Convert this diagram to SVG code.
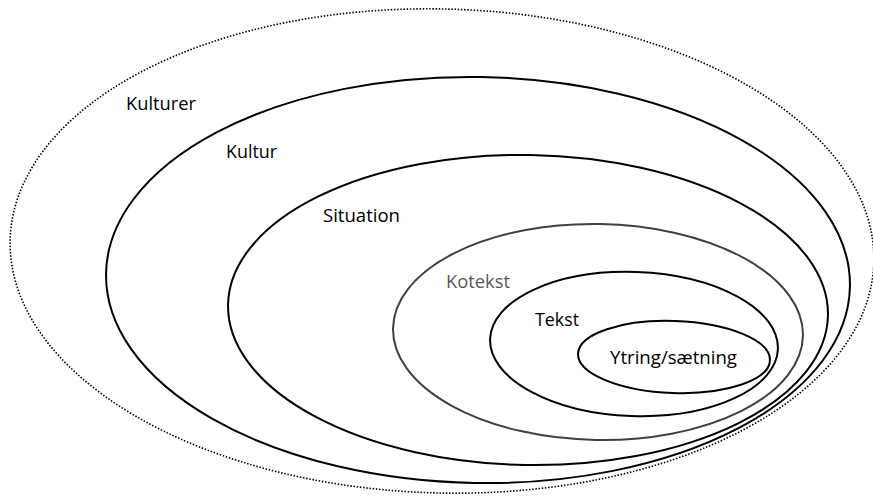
<svg xmlns="http://www.w3.org/2000/svg" width="873" height="497" viewBox="0 0 873 497">
<style>
.ring{fill:none;stroke:#000;stroke-width:2}
.gray{fill:none;stroke:#404040;stroke-width:2}
.dot{fill:none;stroke:#000;stroke-width:1.6;stroke-dasharray:1.5 1.7}
.lbl{font-family:"Open Sans","Noto Sans","Liberation Sans",sans-serif;font-size:18px;fill:#000}
.glbl{font-family:"Open Sans","Noto Sans","Liberation Sans",sans-serif;font-size:18px;fill:#595959}
</style>
<rect width="873" height="497" fill="#fff"/>
<g id="kulturer">
<ellipse class="dot" cx="442" cy="251" rx="432" ry="242" transform="rotate(1.5 442 251)"/>
<text class="lbl" x="126" y="110" textLength="70" lengthAdjust="spacingAndGlyphs">Kulturer</text>
</g>
<g id="kultur">
<ellipse class="ring" cx="478" cy="280" rx="372" ry="203" transform="rotate(1 478 280)"/>
<text class="lbl" x="226" y="158" textLength="51" lengthAdjust="spacingAndGlyphs">Kultur</text>
</g>
<g id="situation">
<ellipse class="ring" cx="528" cy="310" rx="300" ry="155" transform="rotate(1 528 310)"/>
<text class="lbl" x="323" y="222" textLength="77" lengthAdjust="spacingAndGlyphs">Situation</text>
</g>
<g id="kotekst">
<ellipse class="gray" cx="598" cy="332" rx="205" ry="108" transform="rotate(1 598 332)"/>
<text class="glbl" x="446" y="288" textLength="64" lengthAdjust="spacingAndGlyphs">Kotekst</text>
</g>
<g id="tekst">
<ellipse class="ring" cx="634" cy="344" rx="144" ry="72" transform="rotate(2 634 344)"/>
<text class="lbl" x="535" y="326" textLength="44" lengthAdjust="spacingAndGlyphs">Tekst</text>
</g>
<g id="ytring">
<ellipse class="ring" cx="674" cy="357" rx="96" ry="36" transform="rotate(2 674 357)"/>
<text class="lbl" x="610" y="364" textLength="127" lengthAdjust="spacingAndGlyphs">Ytring/sætning</text>
</g>
<g id="connectors"/>
</svg>
